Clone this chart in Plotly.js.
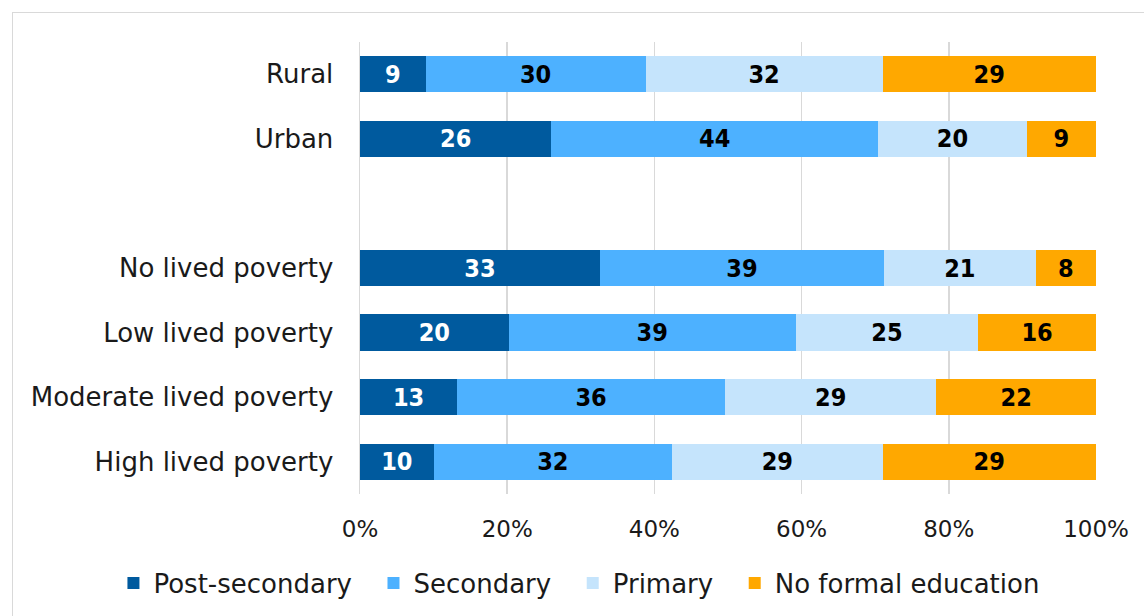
<!DOCTYPE html>
<html>
<head>
<meta charset="utf-8">
<script src="https://cdn.plot.ly/plotly-3.0.1.min.js"></script>
<style>
  html, body { margin: 0; padding: 0; background: #fff; }
  #chart { width: 1144px; height: 616px; position: absolute; left: 0; top: 0; }
  #frame { position: absolute; left: 12px; top: 12px; width: 1150px; height: 620px;
           border: 1px solid #d9d9d9; pointer-events: none; z-index: 10; }
</style>
</head>
<body>
<div id="chart"></div>
<div id="frame"></div>
<script>
// Categories top to bottom (blank spacer between groups)
const categories = ["Rural", "Urban", " ", "No lived poverty", "Low lived poverty", "Moderate lived poverty", "High lived poverty"];
const rowLabels = ["Rural", "Urban", "No lived poverty", "Low lived poverty", "Moderate lived poverty", "High lived poverty"];

// Percent shares
const postSecondary = [8.9, 26.0, 32.6, 20.2, 13.2, 10.0];
const secondary     = [29.9, 44.4, 38.6, 39.0, 36.4, 32.4];
const primary       = [32.2, 20.2, 20.6, 24.8, 28.7, 28.6];
const noFormal      = [29.0, 9.4, 8.2, 16.0, 21.7, 29.0];

const seriesNames  = ["Post-secondary", "Secondary", "Primary", "No formal education"];
const seriesColors = ["#005A9E", "#4DB1FF", "#C5E4FC", "#FFA800"];
const textColors   = ["#ffffff", "#000000", "#000000", "#000000"];
const xTickVals = [0, 20, 40, 60, 80, 100];
const xTickText = ["0%", "20%", "40%", "60%", "80%", "100%"];

const FONT = "'DejaVu Sans', sans-serif";
const NUMFONT = "'DejaVu Sans Condensed', 'DejaVu Sans', sans-serif";
const allSeries = [postSecondary, secondary, primary, noFormal];
// extra spacing after legend entries (except last)
const legendPad = "\u00a0\u00a0";

const traces = allSeries.map((vals, i) => ({
  type: "bar",
  orientation: "h",
  name: seriesNames[i] + (i < seriesNames.length - 1 ? legendPad : ""),
  y: rowLabels,
  x: vals,
  text: vals.map(v => Math.round(v).toString()),
  texttemplate: "%{text}",
  textposition: "inside",
  insidetextanchor: "middle",
  textangle: 0,
  constraintext: "none",
  textfont: { family: NUMFONT, size: 25, color: textColors[i], weight: 700 },
  marker: { color: seriesColors[i], line: { width: 0 } },
  hoverinfo: "skip"
}));

const layout = {
  width: 1144,
  height: 616,
  barmode: "stack",
  bargap: 0.44,
  paper_bgcolor: "#ffffff",
  plot_bgcolor: "#ffffff",
  margin: { l: 360, r: 48, t: 42, b: 122, autoexpand: false },
  font: { family: FONT, color: "#1a1a1a" },
  showlegend: true,
  legend: {
    orientation: "h",
    x: -0.335, xanchor: "left",
    y: -0.197, yanchor: "middle",
    font: { family: FONT, size: 26, color: "#1a1a1a" },
    traceorder: "normal"
  },
  xaxis: {
    range: [0, 100],
    tickvals: xTickVals,
    ticktext: xTickText,
    showgrid: true,
    gridcolor: "#d9d9d9",
    gridwidth: 1.5,
    zeroline: false,
    showline: false,
    ticks: "outside",
    ticklen: 14,
    tickcolor: "rgba(0,0,0,0)",
    tickfont: { family: FONT, size: 23, color: "#1a1a1a" },
    fixedrange: true
  },
  yaxis: {
    type: "category",
    categoryorder: "array",
    categoryarray: categories,
    range: [categories.length - 0.5, -0.5],
    showgrid: false,
    zeroline: false,
    showline: true,
    linecolor: "#d9d9d9",
    linewidth: 1.5,
    ticks: "outside",
    ticklen: 20,
    tickcolor: "rgba(0,0,0,0)",
    tickfont: { family: FONT, size: 26, color: "#1a1a1a" },
    fixedrange: true
  }
};

Plotly.newPlot("chart", traces, layout, { displayModeBar: false, staticPlot: true });
</script>
</body>
</html>
